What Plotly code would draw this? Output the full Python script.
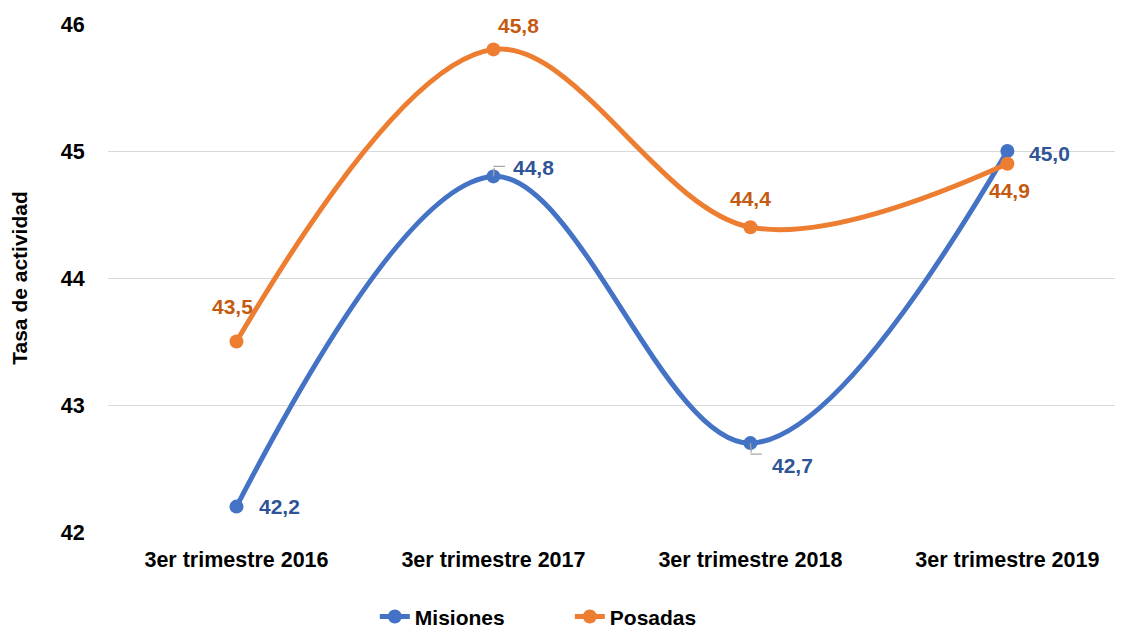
import plotly.graph_objects as go

periodos = ["3er trimestre 2016", "3er trimestre 2017", "3er trimestre 2018", "3er trimestre 2019"]
misiones = [42.2, 44.8, 42.7, 45.0]
posadas = [43.5, 45.8, 44.4, 44.9]

# label offsets in px (dx, dy) relative to each point
off_misiones = [(43, 0), (40, -9), (42, 22), (42, 2)]
off_posadas = [(-4, -35), (25, -24), (0, -29), (2, 27)]

AZUL = "#4472C4"
NARANJA = "#ED7D31"
AZUL_TXT = "#2F5597"
NARANJA_TXT = "#C55A11"
GRIS = "#A6A6A6"
FONT = "Liberation Sans, Arial, sans-serif"
FS = 21

x = list(range(len(periodos)))

fig = go.Figure()
fig.add_trace(go.Scatter(
    x=x, y=misiones, name="<b>Misiones</b>", mode="lines+markers",
    line=dict(color=AZUL, width=5, shape="spline", smoothing=1),
    marker=dict(size=14, color=AZUL),
))
fig.add_trace(go.Scatter(
    x=x, y=posadas, name="<b>Posadas</b>", mode="lines+markers",
    line=dict(color=NARANJA, width=5, shape="spline", smoothing=1),
    marker=dict(size=14, color=NARANJA),
))

def fmt(v):
    return f"{v:.1f}".replace(".", ",")

annotations = []
for xi, v, (dx, dy) in zip(x, misiones, off_misiones):
    annotations.append(dict(x=xi, y=v, text=f"<b>{fmt(v)}</b>", showarrow=False,
                            xshift=dx, yshift=-dy,
                            font=dict(family=FONT, size=FS, color=AZUL_TXT)))
for xi, v, (dx, dy) in zip(x, posadas, off_posadas):
    annotations.append(dict(x=xi, y=v, text=f"<b>{fmt(v)}</b>", showarrow=False,
                            xshift=dx, yshift=-dy,
                            font=dict(family=FONT, size=FS, color=NARANJA_TXT)))

# leader lines (elbows) for the 2017 and 2018 Misiones labels
leader = dict(text="", showarrow=True, arrowhead=0, arrowwidth=1.3, arrowcolor=GRIS, standoff=0)
annotations += [
    dict(x=x[1], y=misiones[1], ax=1, ay=-10, **leader),
    dict(x=x[1], y=misiones[1], yshift=10, ax=13, ay=0, **leader),
    dict(x=x[2], y=misiones[2], ax=1, ay=11, **leader),
    dict(x=x[2], y=misiones[2], yshift=-11, ax=13, ay=0, **leader),
]

# page body adds an 8px margin, so the figure is 8px smaller and shifted
fig.update_layout(
    width=1115, height=622,
    margin=dict(l=100, r=0, t=16, b=98, autoexpand=False),
    paper_bgcolor="white", plot_bgcolor="white",
    font=dict(family=FONT, size=FS, color="#000000"),
    annotations=annotations,
    showlegend=True,
    legend=dict(orientation="h", x=0.455, xanchor="center", y=-0.167, yanchor="middle",
                font=dict(family=FONT, size=FS, color="#000000"), entrywidth=150),
    xaxis=dict(
        range=[-0.5, 3.45], tickmode="array", tickvals=x,
        ticktext=[f"<b>{p}</b>" for p in periodos],
        tickfont=dict(size=21.5),
        showgrid=False, zeroline=False, showline=False,
        ticks="outside", ticklen=8, tickcolor="rgba(0,0,0,0)",
    ),
    yaxis=dict(
        range=[42, 46], dtick=1, tickformat="d",
        tickprefix="<b>", ticksuffix="</b>",
        tickfont=dict(size=21.5),
        showgrid=True, gridcolor="#D9D9D9", gridwidth=1.3,
        zeroline=False, showline=False,
        ticks="outside", ticklen=18, tickcolor="rgba(0,0,0,0)",
        title=dict(text="<b>Tasa de actividad</b>", standoff=36,
                   font=dict(family=FONT, size=FS)),
    ),
)

fig.write_html("out.html")
